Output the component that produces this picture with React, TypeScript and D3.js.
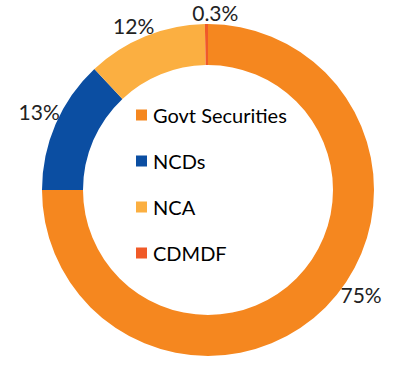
import React, { useEffect, useRef } from 'react';
import * as d3 from 'd3';

const categories = ['Govt Securities', 'NCDs', 'NCA', 'CDMDF'];
const values = [75, 13, 11.7, 0.3];
const valueLabels = ['75%', '13%', '12%', '0.3%'];
const colors = ['#F5871F', '#0B4EA2', '#FBAF41', '#F05A28'];

// small nudges so the labels sit where the original placed them
const labelNudge: [number, number][] = [[23, -26], [0, -5], [-5, 6], [9, 6]];

const W = 407;
const H = 372;

export default function App() {
  const svgRef = useRef<SVGSVGElement>(null);

  useEffect(() => {
    if (!svgRef.current) return;
    const svg = d3.select(svgRef.current);
    svg.selectAll('*').remove();

    const cx = 208;
    const cy = 190;
    const outer = 166;
    const inner = 125;

    const pie = d3.pie<number>().value(d => d).sort(null);
    const arcs = pie(values);
    const arc = d3.arc<d3.PieArcDatum<number>>().innerRadius(inner).outerRadius(outer);

    const g = svg.append('g').attr('transform', `translate(${cx},${cy})`);

    g.selectAll('path.slice')
      .data(arcs)
      .enter()
      .append('path')
      .attr('class', 'slice')
      .attr('d', arc)
      .attr('fill', (_, i) => colors[i]);

    // outside labels
    const labelArc = d3.arc<d3.PieArcDatum<number>>().innerRadius(184).outerRadius(184);
    g.selectAll('text.pct')
      .data(arcs)
      .enter()
      .append('text')
      .attr('class', 'pct')
      .attr('x', (d, i) => labelArc.centroid(d)[0] + labelNudge[i][0])
      .attr('y', (d, i) => labelArc.centroid(d)[1] + labelNudge[i][1])
      .attr('text-anchor', 'middle')
      .attr('dominant-baseline', 'central')
      .attr('fill', '#222')
      .style('font-family', 'Lato, "Open Sans", sans-serif')
      .style('font-size', '21px')
      .text((_, i) => valueLabels[i]);

    // legend in the hole
    const legendY = d3.scalePoint<string>().domain(categories).range([115, 253]);
    const lg = svg.append('g');
    const row = lg.selectAll('g.row')
      .data(categories)
      .enter()
      .append('g')
      .attr('class', 'row')
      .attr('transform', d => `translate(136,${legendY(d)})`);

    row.append('rect')
      .attr('x', 0)
      .attr('y', -5.5)
      .attr('width', 11)
      .attr('height', 11)
      .attr('fill', (_, i) => colors[i]);

    row.append('text')
      .attr('x', 17)
      .attr('y', 0)
      .attr('dominant-baseline', 'central')
      .attr('fill', '#000')
      .style('font-family', 'Lato, "Open Sans", sans-serif')
      .style('font-size', '20px')
      .text(d => d);
  }, []);

  return (
    <svg
      ref={svgRef}
      width={W}
      height={H}
      style={{ position: 'absolute', left: 0, top: 0, background: '#fff', display: 'block' }}
    />
  );
}
